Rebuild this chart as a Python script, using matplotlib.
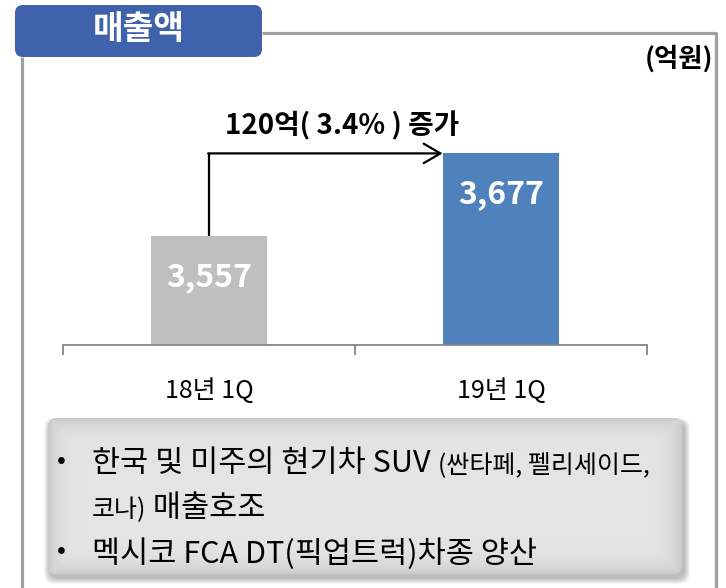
import matplotlib
matplotlib.use('Agg')
import matplotlib.pyplot as plt
import numpy as np
from matplotlib.patches import FancyBboxPatch

plt.rcParams['font.family'] = ['Noto Sans CJK KR', 'DejaVu Sans']

# ---- data ----
categories = ['18년 1Q', '19년 1Q']
values = [3557, 3677]
value_labels = ['3,557', '3,677']
bar_colors = ['#BFBFBF', '#4F81BD']
title = '매출액'
unit = '(억원)'
change_label = '120억( 3.4% ) 증가'
note1_main = '한국 및 미주의 현기차 SUV '
note1_small = '(싼타페, 펠리세이드,'
note2_small = '코나)'
note2_main = ' 매출호조'
note3_main = '멕시코 FCA DT(픽업트럭)차종 양산'

W, H = 726, 588
fig = plt.figure(figsize=(W / 100, H / 100), dpi=100)

bg = fig.add_axes([0, 0, 1, 1])
bg.set_xlim(0, W)
bg.set_ylim(H, 0)
bg.axis('off')
bg.set_zorder(0)

# frame
frame_c = '#A0A0A0'
bg.plot([262, 716, 716], [33, 33, H], color=frame_c, lw=2.3, solid_capstyle='butt')
bg.plot([22, 22], [57, H], color=frame_c, lw=2.3, solid_capstyle='butt')

# title box
tb = FancyBboxPatch((15, 5), 247, 52, boxstyle='round,pad=0,rounding_size=8',
                    fc='#4062AD', ec='none')
bg.add_patch(tb)
bg.text(139, 30, title, color='white', fontsize=24, fontweight='bold',
        ha='center', va='center')

bg.text(713, 59, unit, color='black', fontsize=19, fontweight='bold',
        ha='right', va='center')

bg.text(342, 126, change_label, color='black', fontsize=20, fontweight='bold',
        ha='center', va='center')

# note box with soft shadow
bx, by, bw, bh = 48, 418, 634, 156
for i in range(10, 0, -1):
    sh = FancyBboxPatch((bx - i * 0.6 + 2, by - i * 0.4 + 4), bw + i * 1.2, bh + i * 1.0,
                        boxstyle='round,pad=0,rounding_size=10', fc='black',
                        ec='none', alpha=0.028)
    bg.add_patch(sh)
box = FancyBboxPatch((bx, by), bw, bh, boxstyle='round,pad=0,rounding_size=8',
                     fc='none', ec='none')
bg.add_patch(box)
yy, xx = np.mgrid[0:1:200j, 0:1:400j]
ex = np.minimum(xx, 1 - xx) * bw
ey = np.minimum(yy, 1 - yy) * bh
edge = np.minimum(ex, ey)
grad = 0.86 + 0.035 * np.clip(edge / 25.0, 0, 1) - 0.06 * np.exp(-edge / 8.0)
img = bg.imshow(np.dstack([grad, grad, grad]), extent=(bx, bx + bw, by + bh, by),
                aspect='auto', interpolation='bilinear', zorder=2)
img.set_clip_path(box)
bg.set_xlim(0, W)
bg.set_ylim(H, 0)

fig.canvas.draw()
r = fig.canvas.get_renderer()
inv = bg.transData.inverted()

def place_pieces(x0, y, pieces):
    x = x0
    for txt, fs in pieces:
        t = bg.text(x, y, txt, fontsize=fs, ha='left', va='baseline', color='black', zorder=3)
        ext = t.get_window_extent(r)
        x = inv.transform((ext.x1, ext.y0))[0]

bg.text(61, 461, '•', fontsize=19, ha='center', va='center', zorder=3)
bg.text(61, 551, '•', fontsize=19, ha='center', va='center', zorder=3)
place_pieces(92, 472, [(note1_main, 22), (note1_small, 18)])
place_pieces(92, 517, [(note2_small, 18), (note2_main, 22)])
place_pieces(92, 563, [(note3_main, 22)])

# ---- bar chart ----
ax = fig.add_axes([63 / W, 1 - 345 / H, 584 / W, 245 / H])
ax.set_zorder(1)
ax.patch.set_alpha(0)
px_per_unit = 83 / 120
ax.set_xlim(-0.5, 1.5)
ax.set_ylim(3400, 3400 + 245 / px_per_unit)
x = np.arange(len(categories))
ax.bar(x, values, width=0.4, color=bar_colors)

for xi, v, lbl in zip(x, values, value_labels):
    ax.annotate(lbl, (xi, v), xytext=(0, -41), textcoords='offset pixels',
                ha='center', va='center', color='white', fontsize=23, fontweight='bold')

# growth arrow
ax.plot([x[0], x[0]], [values[0], values[1]], color='black', lw=1.6, solid_capstyle='butt')
ax.annotate('', xy=(x[1] - 0.2, values[1]), xytext=(x[0] - 0.003, values[1]),
            arrowprops=dict(arrowstyle='->,head_length=0.6,head_width=0.35', lw=1.6,
                            color='black', mutation_scale=20, shrinkA=0, shrinkB=0))

for s in ['left', 'right', 'top']:
    ax.spines[s].set_visible(False)
ax.spines['bottom'].set_color('#868686')
ax.spines['bottom'].set_linewidth(1.3)
ax.set_yticks([])
ax.set_xticks(x)
ax.set_xticklabels(categories, fontsize=18)
ax.tick_params(axis='x', which='major', length=0, pad=24)
ax.set_xticks([-0.5, 0.5, 1.5], minor=True)
ax.tick_params(axis='x', which='minor', length=7, width=1.3, color='#868686', direction='out')

fig.savefig('out.png', dpi=100)
